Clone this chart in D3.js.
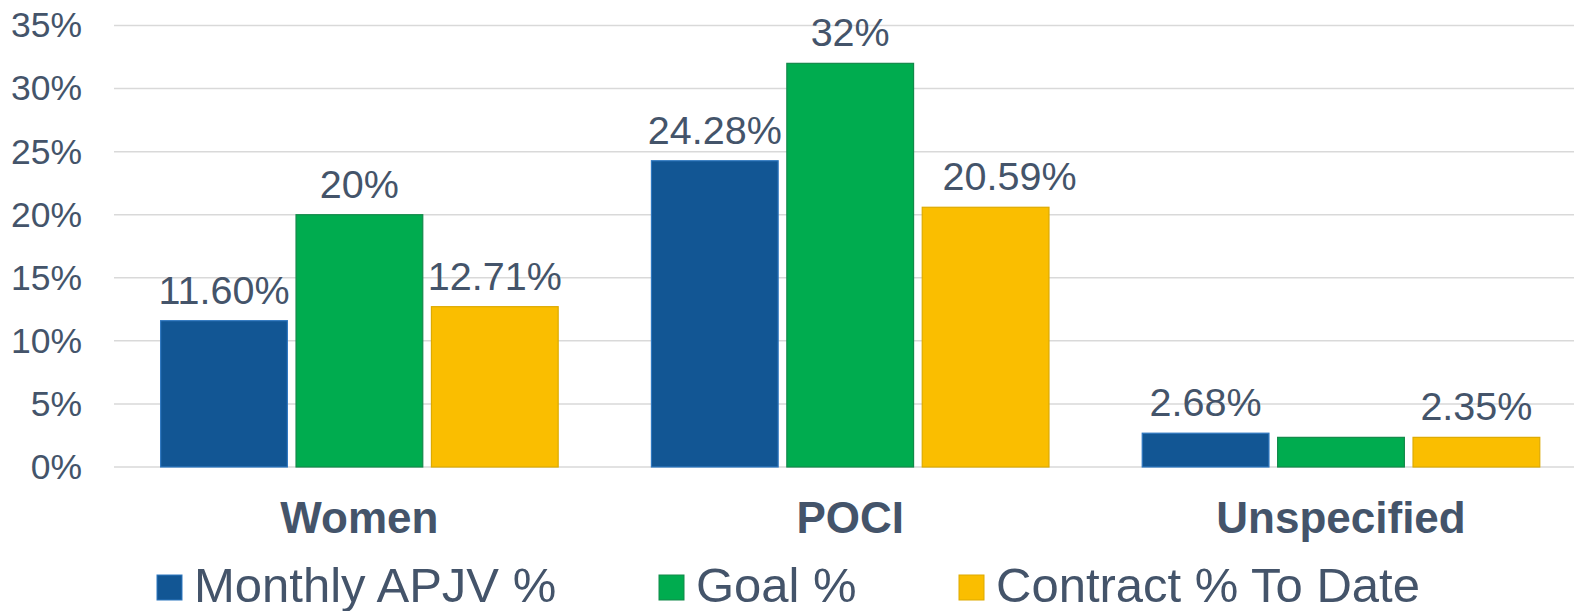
<!DOCTYPE html>
<html>
<head>
<meta charset="utf-8">
<script src="https://cdn.jsdelivr.net/npm/d3@7"></script>
<style>
  html, body { margin: 0; padding: 0; background: #fff; }
  svg { display: block; font-family: "Liberation Sans", Arial, sans-serif; }
</style>
</head>
<body>
<svg id="chart" width="1574" height="611"></svg>
<script>
// data
const categories = ["Women", "POCI", "Unspecified"];
const seriesNames = ["Monthly APJV %", "Goal %", "Contract % To Date"];
const monthly = [11.60, 24.28, 2.68];
const goal = [20, 32, 2.35];
const contract = [12.71, 20.59, 2.35];
const monthlyLabels = ["11.60%", "24.28%", "2.68%"];
const goalLabels = ["20%", "32%", null];
const contractLabels = ["12.71%", "20.59%", "2.35%"];
const yTicks = [0, 5, 10, 15, 20, 25, 30, 35];

const colors = ["#125694", "#00ac4f", "#fabe00"];
const strokes = ["#2f78c0", "#12894a", "#ddaa00"];
const textColor = "#44546a";

const seriesValues = [monthly, goal, contract];
const seriesLabels = [monthlyLabels, goalLabels, contractLabels];

const rows = [];
categories.forEach((c, i) => {
    seriesNames.forEach((s, j) => {
        rows.push({ cat: c, series: s, idx: j, value: seriesValues[j][i], label: seriesLabels[j][i] });
    });
});

const svg = d3.select("#chart");
const plotLeft = 114, plotRight = 1586.4, plotTop = 25.5, plotBottom = 467;

const y = d3.scaleLinear().domain([0, 35]).range([plotBottom, plotTop]);

const x0 = d3.scaleBand()
    .domain(categories)
    .range([plotLeft, plotRight])
    .paddingInner(0.19)
    .paddingOuter(0.095);

const x1 = d3.scaleBand()
    .domain(seriesNames)
    .range([0, x0.bandwidth()])
    .paddingInner(0.064);

// gridlines
svg.append("g")
    .selectAll("line")
    .data(yTicks)
    .enter()
    .append("line")
    .attr("x1", plotLeft)
    .attr("x2", 1574)
    .attr("y1", d => y(d))
    .attr("y2", d => y(d))
    .attr("stroke", "#d9d9d9")
    .attr("stroke-width", 1.5);

// y axis labels
const yAxis = d3.axisLeft(y).tickValues(yTicks).tickFormat(d => d + "%").tickSize(0).tickPadding(0);
const yg = svg.append("g")
    .attr("transform", `translate(82, 0)`)
    .call(yAxis);
yg.select(".domain").remove();
yg.selectAll("text")
    .attr("fill", textColor)
    .style("font-size", "35.5px")
    .style("font-family", "'Liberation Sans', Arial, sans-serif");

// bars
svg.append("g")
    .selectAll("rect")
    .data(rows)
    .enter()
    .append("rect")
    .attr("x", d => x0(d.cat) + x1(d.series))
    .attr("y", d => y(d.value))
    .attr("width", x1.bandwidth())
    .attr("height", d => y(0) - y(d.value))
    .attr("fill", d => colors[d.idx])
    .attr("stroke", d => strokes[d.idx])
    .attr("stroke-width", 1.2);

// value labels (the POCI contract label sits a little to the right, as in the original)
svg.append("g")
    .selectAll("text")
    .data(rows.filter(d => d.label))
    .enter()
    .append("text")
    .attr("x", d => x0(d.cat) + x1(d.series) + x1.bandwidth() / 2 + (d.cat === "POCI" && d.idx === 2 ? 24 : 0))
    .attr("y", d => y(d.value) - 17)
    .attr("text-anchor", "middle")
    .attr("fill", textColor)
    .style("font-size", "39.5px")
    .text(d => d.label);

// category labels
const xAxis = d3.axisBottom(x0).tickSize(0).tickPadding(0);
const xg = svg.append("g")
    .call(xAxis);
xg.select(".domain").remove();
xg.selectAll("text")
    .attr("y", 533)
    .attr("dy", null)
    .attr("fill", textColor)
    .style("font-size", "44px")
    .style("font-weight", "bold")
    .style("font-family", "'Liberation Sans', Arial, sans-serif");

// legend
const legendX = [157, 659, 959];
const legend = svg.append("g")
    .selectAll("g")
    .data(seriesNames)
    .enter()
    .append("g")
    .attr("transform", (d, i) => `translate(${legendX[i]}, 575)`);

legend.append("rect")
    .attr("width", 25)
    .attr("height", 25)
    .attr("fill", (d, i) => colors[i])
    .attr("stroke", (d, i) => strokes[i])
    .attr("stroke-width", 1);

legend.append("text")
    .attr("x", 37)
    .attr("y", 27)
    .attr("fill", textColor)
    .style("font-size", "49px")
    .text(d => d);
</script>
</body>
</html>
